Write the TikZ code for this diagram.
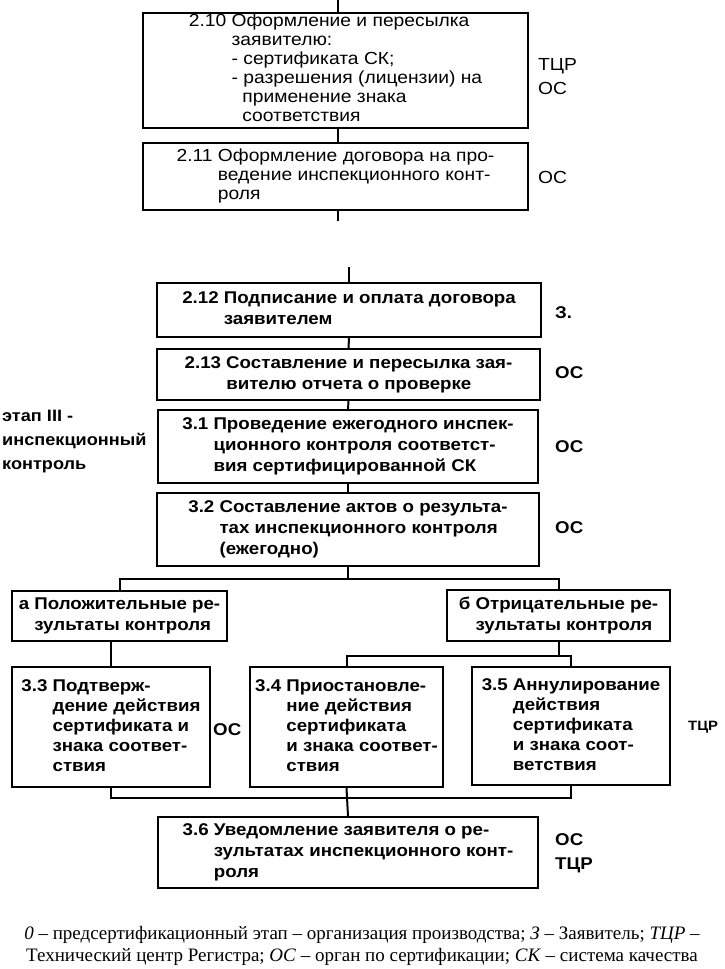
\documentclass[tikz,border=0pt]{standalone}
\usepackage{fontspec}
\setmainfont{Liberation Sans}
\newfontfamily\widesans[FakeStretch=1.1]{Liberation Sans}
\newfontfamily\legendserif{Liberation Serif}
\usetikzlibrary{positioning,calc}
\newcommand{\stagetext}[2]{\begin{tabular}{@{}l@{\ }l@{}}#1&\begin{tabular}[t]{@{}l@{}}#2\end{tabular}\end{tabular}}
\tikzset{
  stagebox/.style={draw=black, line width=2.4pt, fill=white, inner sep=0pt,
                   align=left, text=black, font=\widesans\fontsize{17.5}{19}\selectfont},
  boldbox/.style={stagebox, font=\widesans\fontsize{17}{21}\selectfont\bfseries},
  rolelabel/.style={anchor=west, inner sep=0pt, font=\widesans\fontsize{17.5}{19}\selectfont},
  boldlabel/.style={rolelabel, font=\widesans\fontsize{17}{19}\selectfont\bfseries},
  link/.style={line width=2pt, color=black}}

\begin{document}
\begin{tikzpicture}[x=1pt, y=-1pt]
  \useasboundingbox (0,0) rectangle (724,969);
  % stage II, upper part
  \node[stagebox, minimum width=385, minimum height=115] (s210) at (335.5,70.5)
    {\stagetext{2.10}{Оформление и пересылка\\заявителю:\\- сертификата СК;\\- разрешения (лицензии) на\\\ \ применение знака\\\ \ соответствия}};
  \node[stagebox, minimum width=385, minimum height=67] (s211) at (335.5,176.5)
    {\stagetext{2.11}{Оформление договора на про-\\ведение инспекционного конт-\\роля}};
  \node[rolelabel] (r210a) at (538,66) {ТЦР};
  \node[rolelabel] (r210b) at (538,88) {ОС};
  \node[rolelabel] (r211) at (538,177) {ОС};
  % stage II, lower part and stage III
  \node[boldbox, minimum width=384, minimum height=54] (s212) at (349,310)
    {\stagetext{2.12}{Подписание и оплата договора\\заявителем}};
  \node[boldbox, minimum width=383, minimum height=51] (s213) at (348.5,374.5)
    {\stagetext{2.13}{Составление и пересылка зая-\\вителю отчета о проверке}};
  \node[boldbox, minimum width=380, minimum height=73] (s31) at (348,446.5)
    {\stagetext{3.1}{Проведение ежегодного инспек-\\ционного контроля соответст-\\вия сертифицированной СК}};
  \node[boldbox, minimum width=382, minimum height=73] (s32) at (348,529.5)
    {\stagetext{3.2}{Составление актов о результа-\\тах инспекционного контроля\\(ежегодно)}};
  \node[boldlabel] (r212) at (555,313) {З.};
  \node[boldlabel] (r213) at (555,373) {ОС};
  \node[boldlabel] (r31) at (555,447) {ОС};
  \node[boldlabel] (r32) at (555,528) {ОС};
  \node[boldlabel, anchor=north west, align=left, font=\widesans\fontsize{16.5}{24}\selectfont\bfseries]
    (phase3) at (2,410) {этап III -\\инспекционный\\контроль};
  % results
  \node[boldbox, minimum width=215, minimum height=50] (rpos) at (119.5,616)
    {\stagetext{а}{Положительные ре-\\зультаты контроля}};
  \node[boldbox, minimum width=223, minimum height=51] (rneg) at (558.5,615.5)
    {\stagetext{б}{Отрицательные ре-\\зультаты контроля}};
  \node[boldbox, minimum width=198, minimum height=120, font=\widesans\fontsize{17}{20}\selectfont\bfseries] (s33) at (111,727)
    {\stagetext{3.3}{Подтверж-\\дение действия\\сертификата и\\знака соответ-\\ствия}};
  \node[boldbox, minimum width=193, minimum height=120, font=\widesans\fontsize{17}{20}\selectfont\bfseries] (s34) at (346.5,727)
    {\stagetext{3.4}{Приостановле-\\ние действия\\сертификата\\и знака соответ-\\ствия}};
  \node[boldbox, minimum width=198, minimum height=118, font=\widesans\fontsize{17}{20}\selectfont\bfseries] (s35) at (571,726)
    {\stagetext{3.5}{Аннулирование\\действия\\сертификата\\и знака соот-\\ветствия}};
  \node[boldlabel] (r33) at (213,730) {ОС};
  \node[boldlabel, font=\widesans\fontsize{13.5}{16}\selectfont\bfseries] (r35) at (688,727) {ТЦР};
  \node[boldbox, minimum width=380, minimum height=71] (s36) at (348,852.5)
    {\stagetext{3.6}{Уведомление заявителя о ре-\\зультатах инспекционного конт-\\роля}};
  \node[boldlabel] (r36a) at (555,840) {ОС};
  \node[boldlabel] (r36b) at (555,865) {ТЦР};
  % connectors
  \coordinate (cut0) at (338,0);
  \coordinate (cut1) at (338,221);
  \coordinate (cut2) at (349,267);
  \coordinate (join) at (347,798);
  \draw[link] (cut0) -- (cut0 |- s210.north);
  \draw[link] (cut0 |- s210.south) -- (cut0 |- s211.north);
  \draw[link] (cut1 |- s211.south) -- (cut1);
  \draw[link] (cut2) -- (cut2 |- s212.north);
  \draw[link] (s212.south) -- (s213.north);
  \draw[link] (s213.south) -- (s31.north);
  \draw[link] (s31.south) -- (s32.north);
  \draw[link] (s32.south) -- ++(0,12) coordinate (fork1);
  \draw[link] (rpos.north) |- (fork1) -| (rneg.north);
  \draw[link] (s33.north |- rpos.south) -- (s33.north);
  \draw[link] (rneg.south) -- ++(0,14) coordinate (fork2);
  \draw[link] (s34.north) |- (fork2) -| (s35.north);
  \draw[link] (s33.south) |- (join) -| (s35.south);
  \draw[link] (s34.south) -- (s36.north);
  % legend
  \node[inner sep=0pt, align=center, font=\legendserif\fontsize{19}{22}\selectfont] (legend) at (362,946)
    {\textit{0} – предсертификационный этап – организация производства; \textit{З} – Заявитель; \textit{ТЦР} –\\
     Технический центр Регистра; \textit{ОС} – орган по сертификации; \textit{СК} – система качества};
\end{tikzpicture}
\end{document}
